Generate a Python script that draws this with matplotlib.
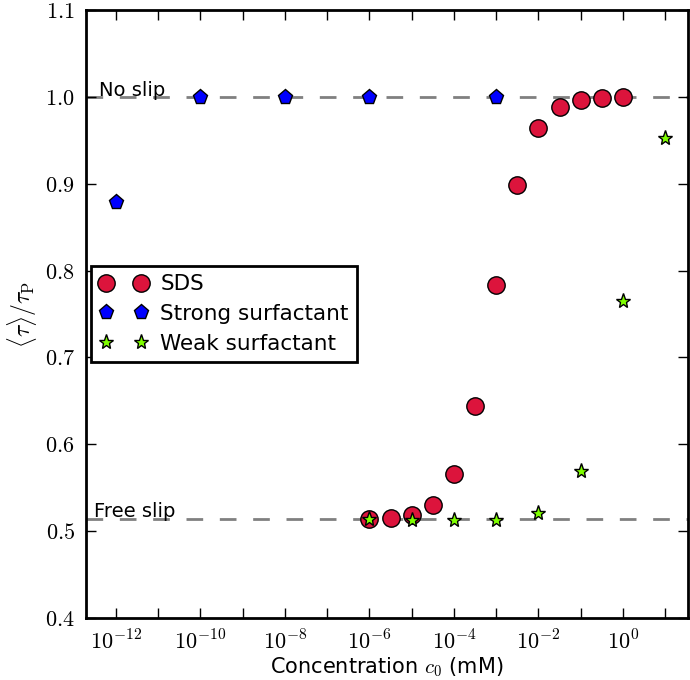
import numpy as np
import matplotlib
matplotlib.use('Agg')
import matplotlib.pyplot as plt
from matplotlib.ticker import FixedLocator, NullFormatter

plt.rcParams['mathtext.fontset'] = 'cm'
plt.rcParams['font.family'] = 'DejaVu Sans'

# data
sds_c = [1e-6, 10**-5.5, 1e-5, 10**-4.5, 1e-4, 10**-3.5, 1e-3, 10**-2.5, 1e-2, 10**-1.5, 1e-1, 10**-0.5, 1e0]
sds_t = [0.514, 0.515, 0.519, 0.530, 0.566, 0.644, 0.783, 0.898, 0.964, 0.988, 0.997, 0.999, 1.0]

strong_c = [1e-12, 1e-10, 1e-8, 1e-6, 1e-3]
strong_t = [0.879, 1.0, 1.0, 1.0, 1.0]

weak_c = [1e-6, 1e-5, 1e-4, 1e-3, 1e-2, 1e-1, 1e0, 1e1]
weak_t = [0.514, 0.513, 0.513, 0.513, 0.521, 0.569, 0.765, 0.953]

no_slip = 1.0
free_slip = 0.514

yticks = [0.4, 0.5, 0.6, 0.7, 0.8, 0.9, 1.0, 1.1]
xexp = [-12, -10, -8, -6, -4, -2, 0]

fig = plt.figure(figsize=(6.9, 6.8), dpi=100)
ax = fig.add_axes([0.1246, 0.0912, 0.873, 0.894])

ax.axhline(no_slip, color='grey', ls='--', lw=2, dashes=(6, 6), zorder=1)
ax.axhline(free_slip, color='grey', ls='--', lw=2, dashes=(6, 6), zorder=1)

ax.plot(sds_c, sds_t, 'o', color='#dc143c', mec='k', mew=1, ms=12.5, label='SDS', zorder=3)
ax.plot(strong_c, strong_t, 'p', color='#0000ff', mec='k', mew=1, ms=11, label='Strong surfactant', zorder=3)
ax.plot(weak_c, weak_t, '*', color='#7fff00', mec='k', mew=1, ms=11, label='Weak surfactant', zorder=4)

ax.text(10**-12.4, 0.996, 'No slip', fontsize=14, va='bottom', ha='left')
ax.text(10**-12.53, 0.512, 'Free slip', fontsize=14, va='bottom', ha='left')

ax.set_xscale('log')
ax.set_xlim(10**-12.71, 10**1.55)
ax.set_ylim(0.4, 1.1)
ax.xaxis.set_major_locator(FixedLocator([10.0**k for k in xexp]))
ax.xaxis.set_minor_locator(FixedLocator([10.0**k for k in range(-13, 2)]))
ax.xaxis.set_minor_formatter(NullFormatter())
ax.set_xticklabels(['$10^{%d}$' % k for k in xexp])
ax.set_yticks(yticks)
ax.set_yticklabels(['$%.1f$' % v for v in yticks])

ax.tick_params(which='both', direction='in', top=True, right=True, length=7, width=1, labelsize=16, pad=8)
for s in ax.spines.values():
    s.set_linewidth(2)

ax.set_xlabel('Concentration $c_0$ (mM)', fontsize=15, labelpad=2)
ax.set_ylabel(r'$\langle\tau\rangle/\tau_\mathrm{P}$', fontsize=17, labelpad=4)

leg = ax.legend(loc='center left', numpoints=2, fontsize=15.5, fancybox=False,
                framealpha=1, edgecolor='k', borderaxespad=0.25, handletextpad=0.6,
                handlelength=2.2, labelspacing=0.45, borderpad=0.4)
leg.get_frame().set_linewidth(2)

fig.savefig('out.png', dpi=100)
